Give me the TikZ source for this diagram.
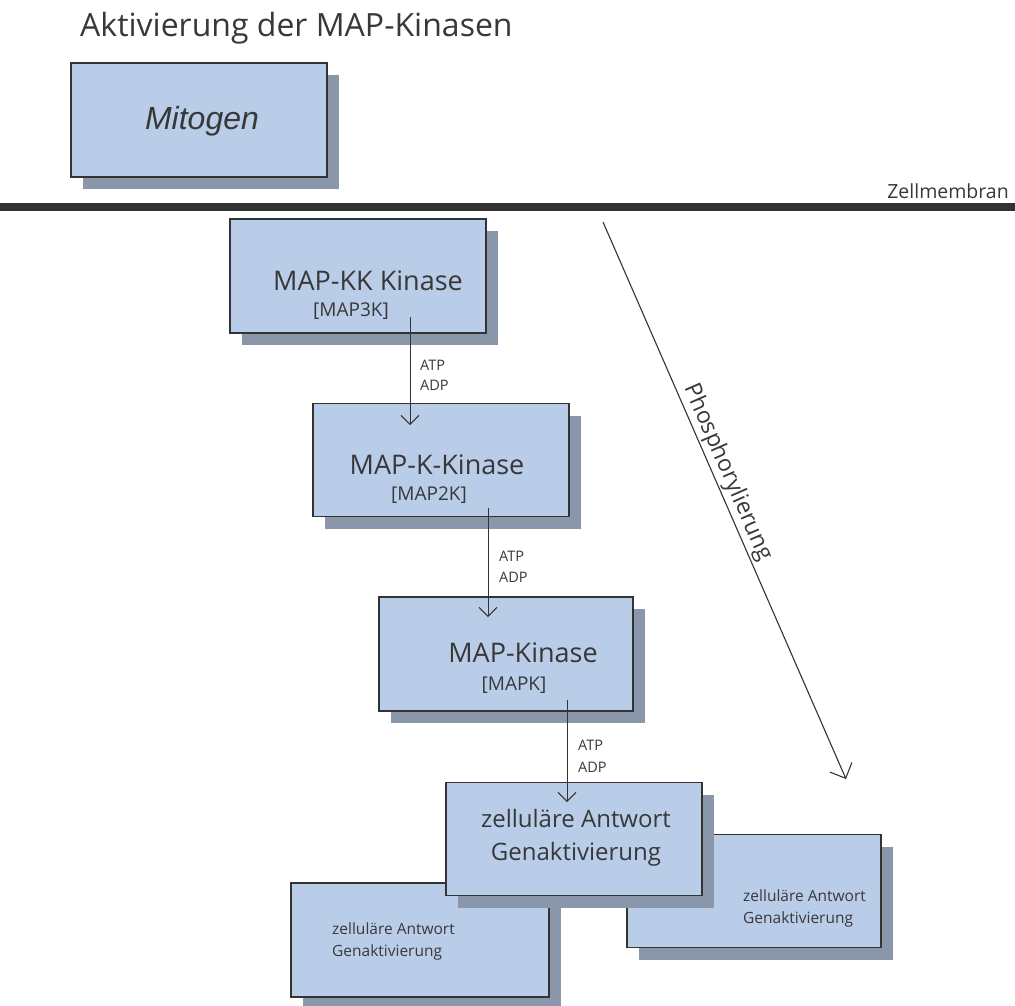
\documentclass[tikz,border=0pt]{standalone}
\usepackage{fontspec}
\setmainfont{Open Sans}
\newfontfamily\arialf{Liberation Sans}
\usetikzlibrary{shadows,arrows.meta,calc}
\definecolor{boxfill}{HTML}{BACDE8}
\definecolor{shadowc}{HTML}{8A96AA}
\definecolor{linec}{HTML}{333333}
\definecolor{txtc}{HTML}{383838}
\newcommand\fsz[2]{\fontsize{#1}{#2}\selectfont}
\begin{document}
\begin{tikzpicture}[x=1pt,y=-1pt,
  box/.style={draw=linec, line width=1.3pt, fill=boxfill,
    drop shadow={shadow xshift=12pt, shadow yshift=-12pt, fill=shadowc, opacity=1}},
  bigbox/.style={box, minimum width=256pt, minimum height=114pt, inner sep=0pt},
  lbl/.style={text=txtc, inner sep=0pt},
  big/.style={lbl, font=\fsz{27}{32}},
  sub/.style={lbl, font=\fsz{19}{22}},
  tiny/.style={lbl, font=\fsz{14.5}{17}, anchor=west},
  small/.style={lbl, font=\fsz{15.5}{22}, align=left, anchor=west},
  flow/.style={draw=linec, line width=1pt, -{Straight Barb[length=9pt,width=18pt,line width=1pt]}},
]
\useasboundingbox (0,0) rectangle (1015,1005);
\node[lbl, anchor=base west, font=\fsz{32}{36}] (title) at (80,36) {Aktivierung der MAP-Kinasen};

% boxes
\node[bigbox] (mito) at (199,120) {};
\node[lbl, font=\arialf\itshape\fsz{32}{36}] (mitot) at (202,121) {Mitogen};

\node[bigbox] (k3) at (358,276) {};
\node[big] (k3t) at (368,281) {MAP-KK Kinase};
\node[sub] (k3s) at (351,311) {[MAP3K]};

\node[bigbox, minimum height=113pt] (k2) at (441,460) {};
\node[big] (k2t) at (437,465) {MAP-K-Kinase};
\node[sub] (k2s) at (429,495) {[MAP2K]};

\node[bigbox, minimum width=254pt] (k1) at (506,654) {};
\node[big] (k1t) at (523,653) {MAP-Kinase};
\node[sub] (k1s) at (514,685) {[MAPK]};

\node[bigbox, minimum width=258pt] (respL) at (420,940) {};
\node[small] (respLt) at (332,941) {zelluläre Antwort\\Genaktivierung};

\node[bigbox, minimum width=254pt, minimum height=113pt] (respR) at (754,891) {};
\node[small] (respRt) at (743,908) {zelluläre Antwort\\Genaktivierung};

\node[bigbox, minimum height=113pt] (resp) at (574,839) {};
\node[lbl, align=center, font=\fsz{24}{33}] (respt) at (576,838) {zelluläre Antwort\\Genaktivierung};

% membrane
\coordinate (ml) at (0,206.5);
\coordinate (mr) at (1015,206.5);
\draw[line width=8pt, linec] (ml) -- (mr);
\node[lbl, anchor=base east, font=\fsz{19.5}{22}] (zm) at (1009,198) {Zellmembran};

% cascade arrows
\coordinate (a1s) at (410,317);
\coordinate (a1e) at (410,425);
\draw[flow] (a1s) -- (a1e);
\node[tiny] (atp1) at (420,365) {ATP};
\node[tiny] (adp1) at (420,385) {ADP};

\coordinate (a2s) at (488,508);
\coordinate (a2e) at (488,617);
\draw[flow] (a2s) -- (a2e);
\node[tiny] (atp2) at (499,556) {ATP};
\node[tiny] (adp2) at (499,577) {ADP};

\coordinate (a3s) at (567,700);
\coordinate (a3e) at (567,802);
\draw[flow] (a3s) -- (a3e);
\node[tiny] (atp3) at (578,745) {ATP};
\node[tiny] (adp3) at (578,767) {ADP};

% phosphorylation arrow
\coordinate (ps) at (603,222);
\coordinate (pe) at (846,779);
\draw[draw=linec, line width=1.1pt, -{Straight Barb[length=12pt,width=24pt,line width=1.1pt]}] (ps) -- node[lbl, sloped, above, pos=0.46, inner sep=2pt, font=\fsz{23}{26}] (phos) {Phosphorylierung} (pe);
\end{tikzpicture}
\end{document}
